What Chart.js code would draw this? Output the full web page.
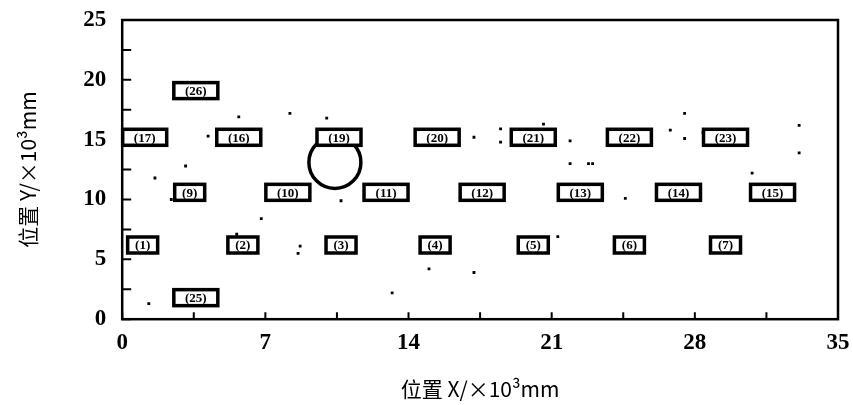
<!DOCTYPE html>
<html>
<head>
<meta charset="utf-8">
<script src="https://cdn.jsdelivr.net/npm/chart.js@4/dist/chart.umd.min.js"></script>
<style>
  html, body { margin: 0; padding: 0; background: #fff; }
  #wrap { width: 853px; height: 405px; }
</style>
</head>
<body>
<div id="wrap"><canvas id="c"></canvas></div>
<script>
/* ── Data ──────────────────────────────── */
const boxLabels = ['1', '2', '3', '4', '5', '6', '7',
                   '9', '10', '11', '12', '13', '14', '15',
                   '17', '16', '19', '20', '21', '22', '23',
                   '26', '25'];
const boxX = [1.0, 5.9, 10.7, 15.3, 20.1, 24.8, 29.5,
              3.3, 8.1, 12.9, 17.6, 22.4, 27.2, 31.8,
              1.1, 5.7, 10.6, 15.4, 20.1, 24.8, 29.5,
              3.6, 3.6];
const boxY = [6.2, 6.2, 6.2, 6.2, 6.2, 6.2, 6.2,
              10.6, 10.6, 10.6, 10.6, 10.6, 10.6, 10.6,
              15.2, 15.2, 15.2, 15.2, 15.2, 15.2, 15.2,
              19.1, 1.8];

const circleX = [10.4];
const circleY = [13.1];

// stray specks in the scan
const speckX = [4.2, 3.1, 1.6, 2.4, 10.7, 17.2, 18.5, 18.5, 20.6, 21.9, 21.9, 22.8,
                26.8, 27.5, 28.4, 33.1, 33.1, 30.8, 23.0, 24.6, 5.6, 8.7, 8.6, 15.0,
                17.2, 13.2, 1.3, 21.3, 8.2, 5.7, 10.0, 27.5, 6.8];
const speckY = [15.3, 12.8, 11.8, 10.0, 9.9, 15.2, 15.9, 14.8, 16.3, 14.9, 13.0, 13.0,
                15.8, 15.1, 15.6, 16.2, 13.9, 12.2, 13.0, 10.1, 7.1, 6.1, 5.5, 4.2,
                3.9, 2.2, 1.3, 6.9, 17.2, 16.9, 16.8, 17.2, 8.4];

const xTicks = [0, 7, 14, 21, 28, 35];
const yTicks = [0, 5, 10, 15, 20, 25];
const xMinor = 3.5;
const yMinor = 2.5;

/* ── Plugin: frame, inward ticks, boxes, ring ── */
const framePlugin = {
  id: 'frame',
  afterDraw(chart) {
    const { ctx, chartArea: a, scales } = chart;
    ctx.save();
    ctx.strokeStyle = '#000';
    ctx.lineWidth = 2.5;
    ctx.strokeRect(a.left, a.top, a.right - a.left, a.bottom - a.top);
    ctx.lineWidth = 2;
    ctx.beginPath();
    for (let v = 0; v <= 35.001; v += xMinor) {
      const px = scales.x.getPixelForValue(v);
      ctx.moveTo(px, a.bottom);
      ctx.lineTo(px, a.bottom - 7);
    }
    for (let v = 0; v <= 25.001; v += yMinor) {
      const py = scales.y.getPixelForValue(v);
      ctx.moveTo(a.left, py);
      ctx.lineTo(a.left + 9, py);
    }
    ctx.stroke();

    // ring (drawn here so its radius does not pad the layout)
    chart.getDatasetMeta(1).data.forEach(pt => {
      ctx.lineWidth = 3.5;
      ctx.beginPath();
      ctx.arc(pt.x, pt.y, 26, 0, Math.PI * 2);
      ctx.stroke();
    });

    // boxes
    const meta = chart.getDatasetMeta(0);
    ctx.font = 'bold 13px "Liberation Serif", serif';
    ctx.textAlign = 'center';
    ctx.textBaseline = 'middle';
    meta.data.forEach((pt, i) => {
      const txt = '(' + boxLabels[i] + ')';
      const w = boxLabels[i].length > 1 ? 44 : 30;
      const h = 16;
      ctx.fillStyle = '#fff';
      ctx.fillRect(pt.x - w / 2, pt.y - h / 2, w, h);
      ctx.lineWidth = 3.5;
      ctx.strokeStyle = '#000';
      ctx.strokeRect(pt.x - w / 2, pt.y - h / 2, w, h);
      ctx.fillStyle = '#000';
      ctx.fillText(txt, pt.x, pt.y + 1);
    });
    ctx.restore();
  }
};

new Chart(document.getElementById('c'), {
  type: 'scatter',
  data: {
    datasets: [
      {
        label: 'boxes',
        data: boxX.map((x, i) => ({ x, y: boxY[i] })),
        pointRadius: 0
      },
      {
        label: 'circle',
        data: circleX.map((x, i) => ({ x, y: circleY[i] })),
        pointRadius: 0
      },
      {
        label: 'specks',
        data: speckX.map((x, i) => ({ x, y: speckY[i] })),
        pointStyle: 'rect',
        pointRadius: 2,
        borderWidth: 0,
        backgroundColor: '#000'
      }
    ]
  },
  options: {
    responsive: true,
    maintainAspectRatio: false,
    animation: false,
    layout: { padding: { left: 15, right: 15, top: 20, bottom: 3 } },
    plugins: { legend: { display: false }, tooltip: { enabled: false } },
    scales: {
      x: {
        type: 'linear', min: 0, max: 35,
        afterBuildTicks: s => { s.ticks = xTicks.map(v => ({ value: v })); },
        afterFit: s => { s.paddingLeft = 0; s.paddingRight = 0; },
        grid: { display: false },
        border: { display: false },
        ticks: {
          color: '#000', padding: 2,
          font: { family: '"Liberation Serif", serif', size: 23, weight: 'bold' }
        },
        title: {
          display: true, text: '位置 X/×10³mm', color: '#000',
          padding: { top: 18, bottom: 0 },
          font: { family: '"Noto Sans CJK SC", serif', size: 21 }
        }
      },
      y: {
        type: 'linear', min: 0, max: 25,
        afterBuildTicks: s => { s.ticks = yTicks.map(v => ({ value: v })); },
        afterFit: s => { s.paddingTop = 0; s.paddingBottom = 0; },
        grid: { display: false },
        border: { display: false },
        ticks: {
          color: '#000', padding: 8,
          font: { family: '"Liberation Serif", serif', size: 23, weight: 'bold' }
        },
        title: {
          display: true, text: '位置 Y/×10³mm', color: '#000',
          padding: { top: 0, bottom: 35 },
          font: { family: '"Noto Sans CJK SC", serif', size: 21 }
        }
      }
    }
  },
  plugins: [framePlugin]
});
</script>
</body>
</html>
